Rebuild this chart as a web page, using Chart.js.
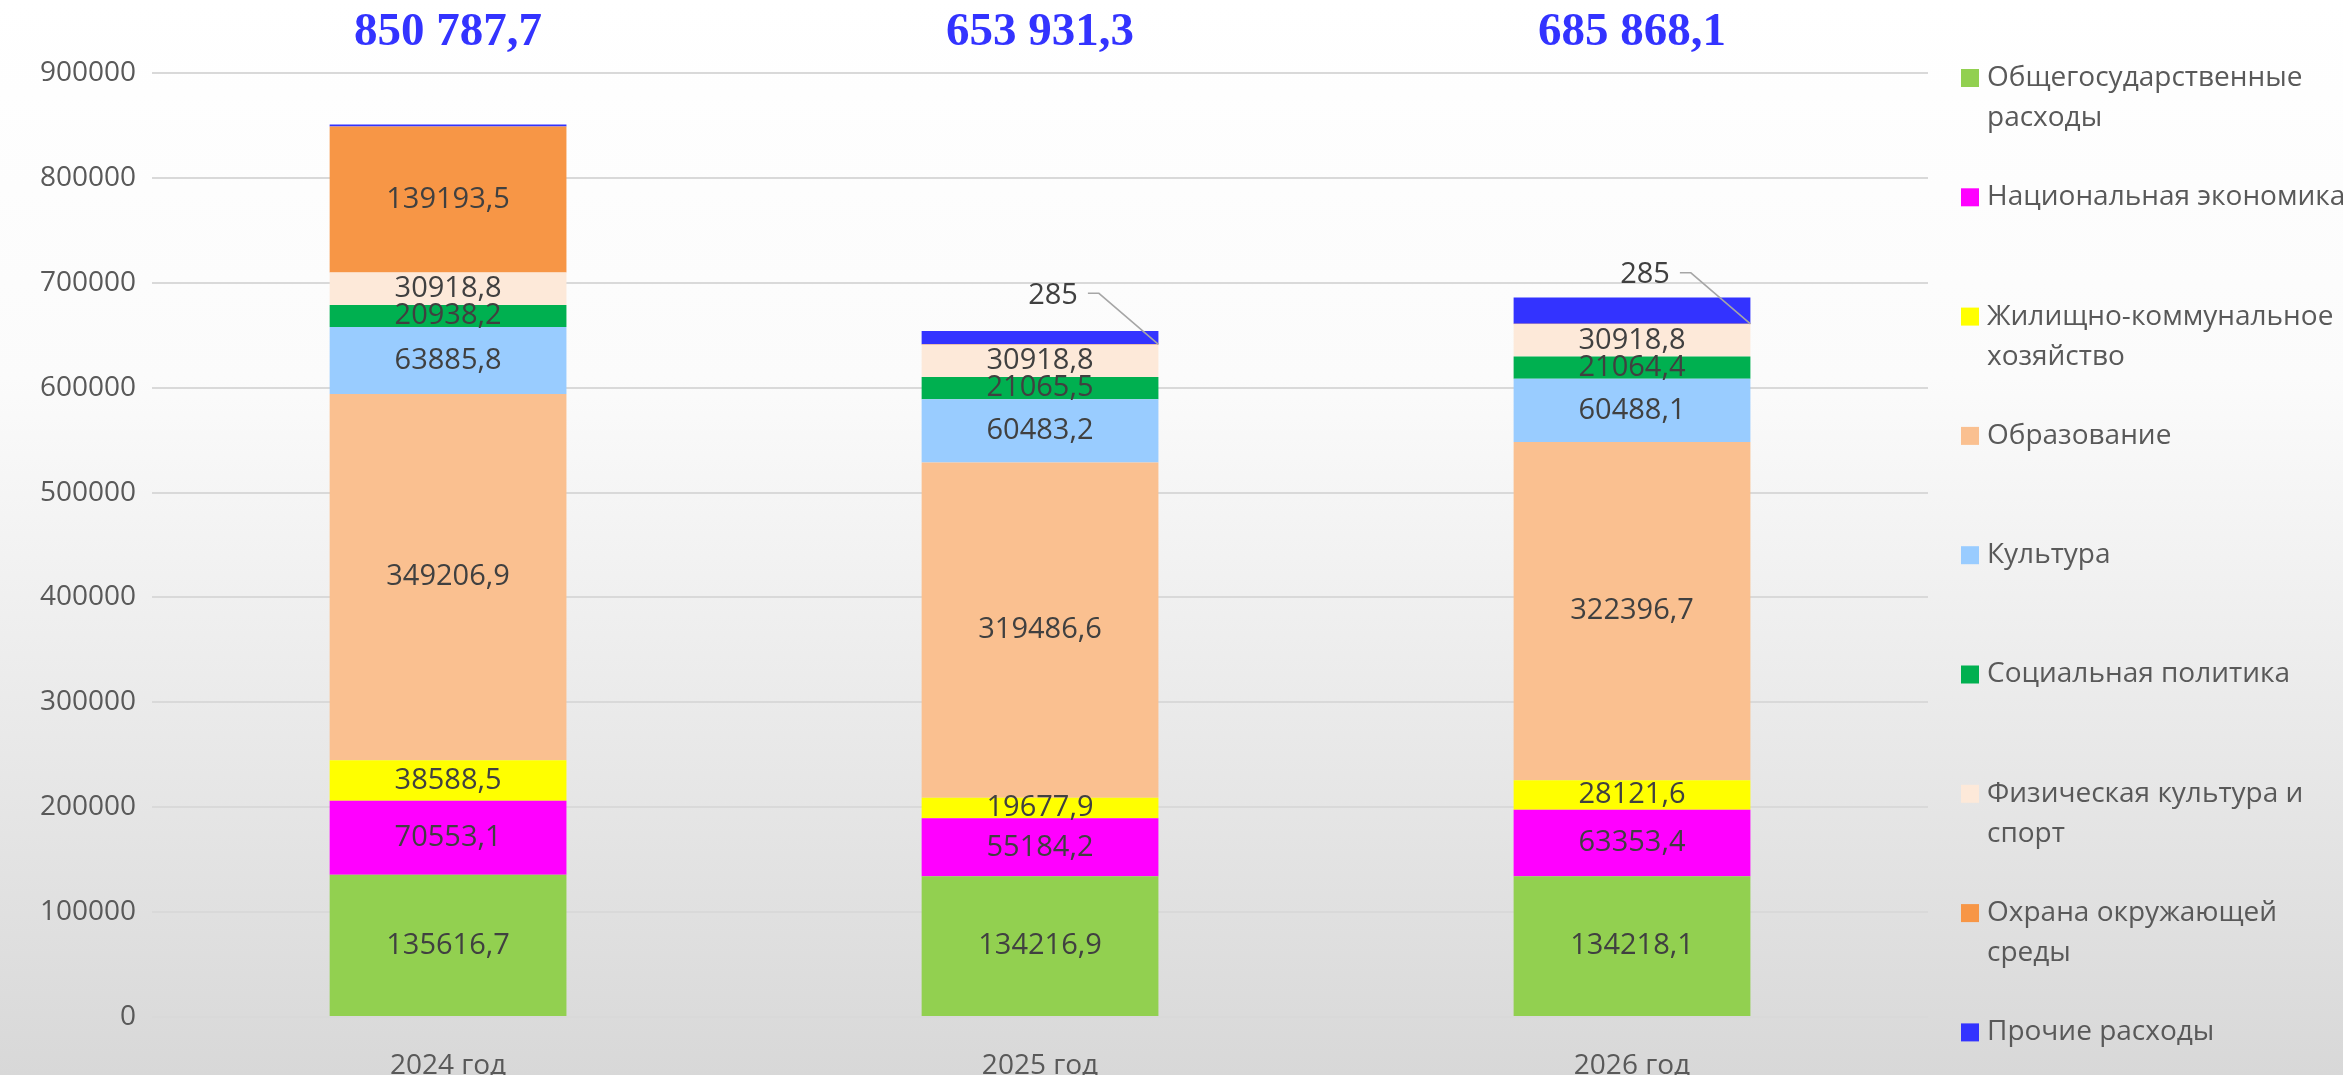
<!DOCTYPE html>
<html>
<head>
<meta charset="utf-8">
<script src="https://cdn.jsdelivr.net/npm/chart.js@4.4.1/dist/chart.umd.min.js"></script>
<style>
  html, body { margin: 0; padding: 0; background: #fff; }
  canvas { display: block; }
</style>
</head>
<body>
<canvas id="chart" width="2343" height="1075"></canvas>
<script>
// categories
const years = ['2024 год', '2025 год', '2026 год']

// series (thousand rubles)
const obshchegos = [135616.7, 134216.9, 134218.1]
const natsEkonomika = [70553.1, 55184.2, 63353.4]
const zhkh = [38588.5, 19677.9, 28121.6]
const obrazovanie = [349206.9, 319486.6, 322396.7]
const kultura = [63885.8, 60483.2, 60488.1]
const sotsPolitika = [20938.2, 21065.5, 21064.4]
const fizkultura = [30918.8, 30918.8, 30918.8]
const okhrana = [139193.5, 285, 285]
const prochie = [1886.2, 12613.2, 25022.0]

// legend names ('\n' = line break in legend)
const seriesNames = [
  'Общегосударственные\nрасходы',
  'Национальная экономика',
  'Жилищно-коммунальное\nхозяйство',
  'Образование',
  'Культура',
  'Социальная политика',
  'Физическая культура и\nспорт',
  'Охрана окружающей\nсреды',
  'Прочие расходы'
]
const seriesValues = [obshchegos, natsEkonomika, zhkh, obrazovanie, kultura, sotsPolitika, fizkultura, okhrana, prochie]
const seriesColors = ['#92D050', '#FF00FF', '#FFFF00', '#FAC090', '#99CCFF', '#00B050', '#FDE9D9', '#F79646', '#3333FF']

// y axis ticks
const yMin = 0
const yMax = 900000
const yStep = 100000

const FONT = '"Open Sans", "Noto Sans", sans-serif'

function fmtComma(v) {
  return String(v.toFixed(1)).replace('.', ',')
}
function fmtTotal(v) {
  let parts = v.toFixed(1).split('.')
  let intPart = parts[0].replace(/\B(?=(\d{3})+(?!\d))/g, ' ')
  return intPart + ',' + parts[1]
}

// background gradient
const bgPlugin = {
  id: 'bg',
  beforeDraw(chart) {
    const ctx = chart.ctx
    let g = ctx.createLinearGradient(0, 0, 0, chart.height)
    g.addColorStop(0, '#ffffff')
    g.addColorStop(0.35, '#fbfbfb')
    g.addColorStop(1, '#d8d8d8')
    ctx.save()
    ctx.fillStyle = g
    ctx.fillRect(0, 0, chart.width, chart.height)
    ctx.restore()
  }
}

// value labels inside the segments
const labelPlugin = {
  id: 'segLabels',
  afterDatasetsDraw(chart) {
    const ctx = chart.ctx
    ctx.save()
    ctx.font = '29px ' + FONT
    ctx.fillStyle = '#404040'
    ctx.textAlign = 'center'
    ctx.textBaseline = 'middle'
    chart.data.datasets.forEach((ds, di) => {
      if (di === 8) return // Прочие расходы - no labels
      const meta = chart.getDatasetMeta(di)
      meta.data.forEach((bar, i) => {
        const v = ds.data[i]
        if (v < 1000) {
          // small value: label moved up with a leader line
          const right = bar.x + bar.width / 2
          const tx = bar.x + 13
          const ty = bar.y - 49
          const txt = fmtComma(v).replace(',0', '')
          ctx.fillText(txt, tx, ty)
          const w = ctx.measureText(txt).width
          ctx.strokeStyle = '#a6a6a6'
          ctx.lineWidth = 1.5
          ctx.beginPath()
          ctx.moveTo(tx + w / 2 + 10, ty - 2)
          ctx.lineTo(tx + w / 2 + 21, ty - 2)
          ctx.lineTo(right, bar.y)
          ctx.stroke()
        } else {
          ctx.fillText(fmtComma(v), bar.x, (bar.y + bar.base) / 2)
        }
      })
    })
    ctx.restore()
  }
}

// totals above the bars
const totalsPlugin = {
  id: 'totals',
  afterDraw(chart) {
    const ctx = chart.ctx
    ctx.save()
    ctx.font = 'bold 47px "Liberation Serif", serif'
    ctx.fillStyle = '#3333FF'
    ctx.textAlign = 'center'
    ctx.textBaseline = 'middle'
    years.forEach((y, i) => {
      let sum = 0
      seriesValues.forEach(s => { sum += s[i] })
      const x = chart.scales.x.getPixelForValue(i)
      ctx.fillText(fmtTotal(sum), x, chart.chartArea.top - 40)
    })
    ctx.restore()
  }
}

// legend on the right
const legendPlugin = {
  id: 'sideLegend',
  afterDraw(chart) {
    const ctx = chart.ctx
    const x0 = chart.chartArea.right + 33
    const y0 = 78
    const step = 119.3
    ctx.save()
    ctx.font = '28px ' + FONT
    ctx.fillStyle = '#595959'
    ctx.textAlign = 'left'
    ctx.textBaseline = 'middle'
    seriesNames.forEach((name, i) => {
      const y = y0 + i * step
      ctx.fillStyle = seriesColors[i]
      ctx.fillRect(x0, y - 9, 18, 18)
      ctx.fillStyle = '#595959'
      name.split('\n').forEach((line, k) => {
        ctx.fillText(line, x0 + 26, y + k * 40)
      })
    })
    ctx.restore()
  }
}

const datasets = seriesNames.map((name, i) => ({
  label: name.replace('\n', ' '),
  data: seriesValues[i],
  backgroundColor: seriesColors[i],
  borderWidth: 0,
  barPercentage: 0.4,
  categoryPercentage: 1.0
}))

const chartCanvas = document.getElementById('chart').getContext('2d')
const chart = new Chart(chartCanvas, {
  type: 'bar',
  data: {
    labels: years,
    datasets: datasets
  },
  options: {
    responsive: false,
    animation: false,
    layout: {
      padding: { left: 24, right: 415, top: 73, bottom: 0 }
    },
    plugins: {
      legend: { display: false },
      tooltip: { enabled: false }
    },
    scales: {
      x: {
        stacked: true,
        grid: { display: false },
        border: { display: false },
        afterFit: scale => { scale.height = 58 },
        ticks: {
          color: '#595959',
          font: { family: FONT, size: 28 },
          padding: 24
        }
      },
      y: {
        stacked: true,
        min: yMin,
        max: yMax,
        grid: { color: '#d9d9d9', lineWidth: 2, drawTicks: false },
        border: { display: false },
        ticks: {
          stepSize: yStep,
          color: '#595959',
          font: { family: FONT, size: 28 },
          padding: 16,
          callback: v => String(v)
        }
      }
    }
  },
  plugins: [bgPlugin, labelPlugin, totalsPlugin, legendPlugin]
})
</script>
</body>
</html>
